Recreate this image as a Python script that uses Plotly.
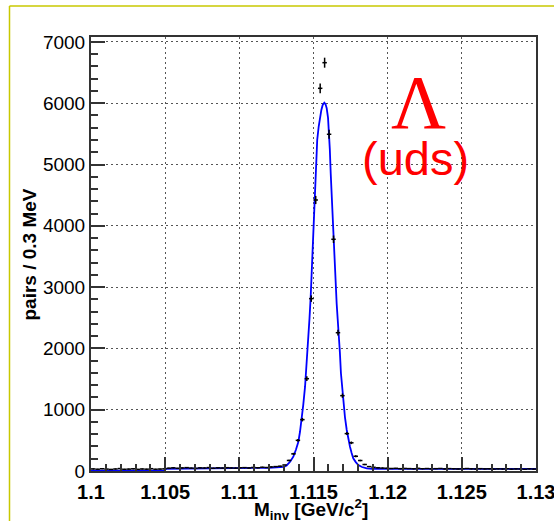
import numpy as np
import plotly.graph_objects as go

# Lambda -> p pi invariant-mass histogram: 100 bins of 0.3 MeV from 1.100 to 1.130 GeV
bin_low = 1.100
bin_width = 0.0003
counts = [
    34, 29, 37, 31, 26, 33, 40, 28, 31, 36, 27, 33, 30, 38, 29, 32, 35,
    46, 52, 44, 50, 55, 47, 43, 51, 49, 56, 45, 52, 48, 54, 50, 47, 53,
    55, 49, 58, 53, 61, 57, 66, 72, 78,
    98, 172, 280, 500, 838, 1506, 2812, 4421, 6243, 6661,
    5493, 3780, 2256, 1229, 610, 460, 240, 171, 106, 72,
    60, 52, 48, 45, 41, 44, 38, 42, 39, 36, 43, 37, 40, 35, 38, 41, 34, 39,
    36, 33, 37, 40, 35, 32, 38, 34, 36, 31, 35, 33, 37, 30, 34, 32, 29, 35, 31,
]

# fitted line shape (mass in GeV, pairs per bin)
fit_mass = [
    1.1000, 1.10499, 1.10501, 1.1100, 1.1120, 1.1130,
    1.11319, 1.11342, 1.11364, 1.11382, 1.11398, 1.11409, 1.11420, 1.11431,
    1.11443, 1.11454, 1.11465, 1.11473, 1.11481, 1.11492, 1.11501, 1.11512,
    1.11525, 1.11535, 1.11544, 1.11553, 1.11562, 1.11573, 1.11581, 1.11589,
    1.11598, 1.11604, 1.11610, 1.11616, 1.11622, 1.11629, 1.11640, 1.11648,
    1.11656, 1.11663, 1.11671, 1.11678, 1.11685, 1.11693, 1.11701, 1.11712,
    1.11724, 1.11735, 1.11746, 1.11757, 1.11768, 1.11785, 1.11802, 1.11827,
    1.11859, 1.11894, 1.1200, 1.1300,
]
fit_pairs = [
    5, 5, 35, 45, 52, 68,
    90, 150, 233, 350, 478, 640, 832, 1080,
    1375, 1750, 2137, 2490, 2843, 3496, 4148, 4747,
    5400, 5620, 5780, 5890, 5971, 6008, 5985, 5917,
    5760, 5563, 5250, 4856, 4500, 4148, 3496, 3100,
    2736, 2480, 2246, 1930, 1594, 1370, 1158, 880,
    669, 520, 396, 295, 207, 145, 98, 65,
    44, 36, 35, 35,
]

x_ticks = [1.1, 1.105, 1.11, 1.115, 1.12, 1.125, 1.13]
x_tick_text = ["1.1", "1.105", "1.11", "1.115", "1.12", "1.125", "1.13"]
y_ticks = [0, 1000, 2000, 3000, 4000, 5000, 6000, 7000]

centers = bin_low + bin_width * (np.arange(len(counts)) + 0.5)
counts_arr = np.array(counts, dtype=float)
errors = np.sqrt(counts_arr)

W, H = 554, 521
L, R, T, B = 91, 536, 37, 471  # plot-area edges in pixels


def px(x):
    return (x - L) / (R - L)


def py(y):
    return (B - y) / (B - T)


fig = go.Figure()

fig.add_trace(go.Scatter(
    x=fit_mass, y=fit_pairs, mode="lines",
    line=dict(color="#0000ff", width=1.8),
    hoverinfo="skip", showlegend=False,
))

fig.add_trace(go.Scatter(
    x=centers, y=counts_arr, mode="markers",
    marker=dict(size=1, color="black"),
    error_y=dict(type="data", array=errors, color="black", thickness=1.5, width=0),
    error_x=dict(type="constant", value=bin_width / 2, color="black", thickness=1.5, width=0),
    showlegend=False,
))

axis_common = dict(
    showline=True, linecolor="#333333", linewidth=2, mirror=True,
    ticks="inside", tickcolor="#333333", tickwidth=1.5, ticklen=14,
    showgrid=True, gridcolor="#555555", gridwidth=1, griddash="2px,3px",
    zeroline=False, automargin=False, ticklabeloverflow="allow",
)

fig.update_xaxes(
    range=[1.1, 1.13], tickvals=x_ticks, ticktext=x_tick_text,
    tickfont=dict(family="Liberation Sans", size=20, color="black", weight="bold"),
    minor=dict(dtick=0.001, tick0=1.1, ticks="inside", ticklen=7, tickcolor="#333333",
               tickwidth=1.5, showgrid=False),
    ticklabelstandoff=2,
    **axis_common,
)
fig.update_yaxes(
    range=[0, 7080], tickvals=y_ticks,
    tickfont=dict(family="Liberation Sans", size=19, color="black"),
    minor=dict(dtick=200, tick0=0, ticks="inside", ticklen=7, tickcolor="#333333",
               tickwidth=1.5, showgrid=False),
    ticklabelstandoff=0,
    **axis_common,
)

annotations = [
    dict(text="Λ", x=px(418), y=py(102), xref="paper", yref="paper",
         xanchor="center", yanchor="middle", showarrow=False,
         font=dict(family="Liberation Serif", size=76, color="#ff0000")),
    dict(text="(uds)", x=px(415), y=py(158), xref="paper", yref="paper",
         xanchor="center", yanchor="middle", showarrow=False,
         font=dict(family="Liberation Sans", size=47, color="#ff0000")),
    dict(text="M<sub>inv</sub> [GeV/c<sup>2</sup>]", x=px(311), y=py(509),
         xref="paper", yref="paper", xanchor="center", yanchor="middle", showarrow=False,
         font=dict(family="Liberation Sans", size=19, color="black", weight="bold")),
    dict(text="pairs / 0.3 MeV", x=px(28.5), y=py(254), xref="paper", yref="paper",
         xanchor="center", yanchor="middle", textangle=-90, showarrow=False,
         font=dict(family="Liberation Sans", size=19, color="black", weight="bold")),
]

# pad border along the top and left edges
shapes = [
    dict(type="line", xref="paper", yref="paper", x0=px(9.5), x1=px(560),
         y0=py(6), y1=py(6), line=dict(color="#c8c800", width=1.5)),
    dict(type="line", xref="paper", yref="paper", x0=px(9.5), x1=px(9.5),
         y0=py(6), y1=py(530), line=dict(color="#c8c800", width=1.5)),
]

fig.update_layout(
    width=W, height=H,
    margin=dict(l=L, r=W - R, t=T, b=H - B, autoexpand=False),
    paper_bgcolor="white", plot_bgcolor="white",
    annotations=annotations, shapes=shapes,
    showlegend=False,
)

fig.write_html("out.html")
